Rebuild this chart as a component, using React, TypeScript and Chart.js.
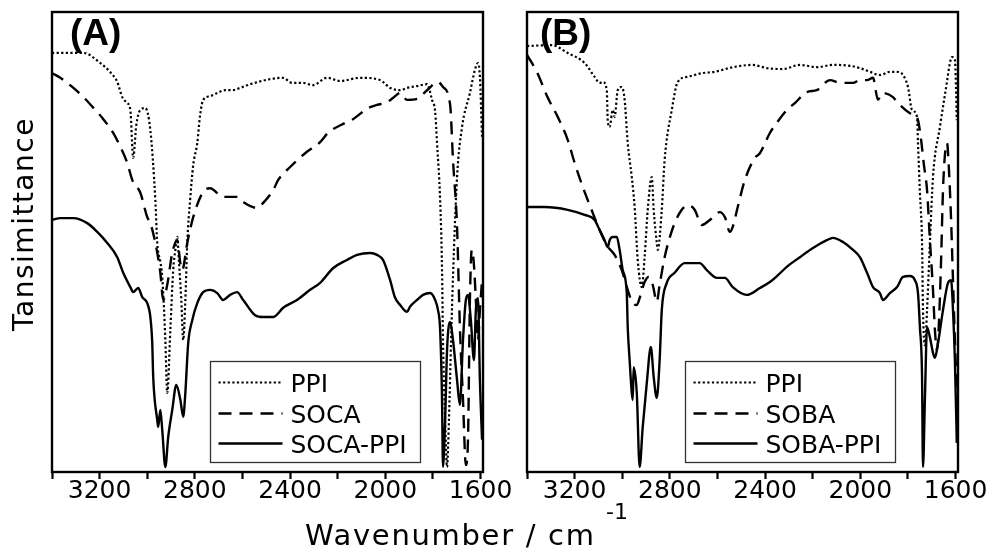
import React, { useEffect, useRef } from "react";
import { Chart, registerables } from "chart.js";

Chart.register(...registerables);

// ---------- axis ----------
const X_MIN = 1590;
const X_MAX = 3400;
const TICK_VALUES = [3400, 3200, 3000, 2800, 2600, 2400, 2200, 2000, 1800, 1600];
const TICK_LABELS = ["", "3200", "", "2800", "", "2400", "", "2000", "", "1600"];

// ---------- panel A ----------
const LABELS_A = ["PPI", "SOCA", "SOCA-PPI"];

const ppiA_wn = [3400, 3365, 3268, 3197, 3155, 3126, 3105, 3084, 3071, 3059, 3046, 3029, 3008, 2987, 2966, 2958, 2945, 2937, 2924, 2916, 2903, 2891, 2882, 2874, 2866, 2857, 2849, 2840, 2832, 2820, 2807, 2790, 2778, 2765, 2736, 2706, 2673, 2643, 2610, 2568, 2484, 2430, 2392, 2346, 2304, 2245, 2190, 2106, 2022, 1980, 1938, 1909, 1867, 1825, 1804, 1791, 1783, 1770, 1762, 1758, 1749, 1741, 1733, 1724, 1716, 1699, 1678, 1645, 1624, 1611, 1603, 1594];
const ppiA_t = [91.1, 91.1, 91.1, 88.9, 86.9, 84.8, 81.5, 80.2, 78.7, 68.3, 75.4, 78.7, 79.1, 74.3, 59.1, 49.8, 45.7, 42.4, 28.7, 17.2, 30.9, 43.9, 48.3, 51.1, 45.0, 37.4, 28.7, 37.4, 49.8, 59.1, 66.7, 71.5, 77.6, 80.9, 81.7, 82.4, 83.0, 83.0, 83.5, 84.3, 85.4, 85.7, 84.6, 84.6, 84.1, 85.7, 85.0, 85.7, 85.2, 83.5, 83.0, 83.5, 83.9, 84.3, 80.9, 78.3, 71.5, 59.1, 43.9, 28.7, 11.3, 1.1, 11.3, 28.7, 42.4, 64.1, 75.0, 82.4, 87.4, 88.9, 85.9, 72.8];

const socaA_wn = [3400, 3365, 3310, 3268, 3218, 3189, 3143, 3113, 3084, 3063, 3029, 3000, 2987, 2966, 2945, 2933, 2916, 2895, 2874, 2861, 2853, 2832, 2807, 2765, 2736, 2681, 2623, 2597, 2538, 2513, 2471, 2450, 2400, 2337, 2274, 2241, 2169, 2136, 2073, 2035, 1993, 1968, 1938, 1909, 1867, 1825, 1779, 1758, 1728, 1716, 1699, 1687, 1674, 1662, 1653, 1645, 1637, 1628, 1620, 1611, 1603, 1594];
const socaA_t = [86.7, 85.7, 83.5, 81.5, 78.7, 77.0, 73.7, 70.7, 67.2, 63.5, 60.7, 55.4, 54.1, 49.8, 43.3, 37.4, 40.7, 47.6, 50.4, 45.4, 43.9, 49.8, 55.4, 60.9, 61.7, 59.8, 59.8, 58.7, 57.4, 58.5, 61.3, 63.5, 66.3, 69.3, 71.7, 73.7, 75.9, 76.7, 79.1, 79.8, 80.4, 81.3, 82.4, 80.9, 81.1, 83.0, 84.8, 83.7, 79.8, 67.8, 53.3, 31.5, 15.7, 1.5, 7.0, 37.4, 48.3, 45.0, 37.4, 28.7, 35.2, 41.7];

const socaPpiA_wn = [3400, 3365, 3310, 3252, 3210, 3168, 3126, 3101, 3071, 3059, 3038, 3021, 3000, 2987, 2979, 2975, 2958, 2954, 2945, 2937, 2924, 2912, 2895, 2878, 2861, 2849, 2840, 2828, 2811, 2790, 2765, 2736, 2706, 2681, 2652, 2623, 2597, 2547, 2513, 2471, 2429, 2371, 2316, 2274, 2220, 2161, 2119, 2064, 2035, 2010, 1980, 1960, 1938, 1909, 1897, 1867, 1842, 1812, 1791, 1779, 1770, 1762, 1758, 1749, 1741, 1728, 1716, 1699, 1687, 1674, 1662, 1653, 1641, 1628, 1620, 1611, 1603, 1594];
const socaPpiA_t = [54.8, 55.2, 55.2, 54.1, 52.2, 49.8, 46.7, 43.3, 40.2, 39.1, 40.0, 38.0, 36.7, 33.7, 28.0, 20.7, 11.3, 9.8, 13.5, 9.1, 1.1, 7.6, 13.5, 18.9, 15.7, 12.0, 17.2, 28.0, 33.0, 36.7, 39.1, 39.6, 38.9, 37.4, 38.5, 39.1, 37.4, 34.1, 33.7, 33.7, 35.7, 37.4, 39.6, 41.1, 44.3, 46.1, 47.2, 47.6, 47.2, 46.1, 41.7, 38.0, 36.3, 34.8, 35.9, 37.4, 38.5, 38.9, 37.4, 35.2, 30.9, 15.7, 1.1, 11.3, 26.5, 32.6, 28.7, 20.0, 14.6, 28.7, 37.4, 38.5, 33.0, 24.3, 35.2, 37.8, 20.0, 7.0];

// ---------- panel B ----------
const LABELS_B = ["PPI", "SOBA", "SOBA-PPI"];

const ppiB_wn = [3400, 3297, 3229, 3158, 3116, 3095, 3082, 3065, 3061, 3053, 3040, 3032, 3019, 3002, 2990, 2977, 2960, 2948, 2935, 2918, 2906, 2893, 2876, 2868, 2855, 2851, 2834, 2822, 2792, 2767, 2725, 2666, 2611, 2536, 2452, 2393, 2326, 2254, 2183, 2115, 2044, 2002, 1960, 1918, 1876, 1846, 1821, 1800, 1783, 1762, 1758, 1750, 1741, 1737, 1729, 1720, 1708, 1695, 1666, 1637, 1624, 1615, 1603, 1595];
const ppiB_t = [92.6, 92.8, 91.1, 88.9, 85.9, 84.6, 84.8, 83.0, 76.5, 75.0, 78.7, 77.2, 83.0, 83.7, 80.9, 71.5, 64.1, 57.6, 46.1, 40.2, 46.7, 57.0, 64.1, 57.0, 49.8, 48.3, 57.0, 67.8, 78.7, 84.8, 85.9, 86.7, 87.0, 88.0, 88.5, 87.8, 87.6, 88.5, 88.0, 88.5, 88.3, 87.8, 87.0, 86.3, 87.0, 87.0, 86.3, 83.7, 78.7, 77.2, 71.5, 60.7, 49.8, 35.2, 27.6, 35.2, 49.8, 64.1, 75.0, 84.6, 88.9, 90.2, 89.6, 76.5];

const sobaB_wn = [3400, 3356, 3314, 3271, 3229, 3200, 3166, 3129, 3095, 3065, 3032, 3002, 2977, 2956, 2939, 2923, 2906, 2889, 2872, 2855, 2843, 2822, 2801, 2780, 2750, 2725, 2696, 2666, 2632, 2590, 2569, 2548, 2536, 2515, 2485, 2443, 2422, 2380, 2351, 2309, 2275, 2225, 2183, 2128, 2086, 2031, 2002, 1972, 1947, 1926, 1909, 1863, 1842, 1792, 1771, 1758, 1745, 1733, 1720, 1708, 1695, 1687, 1678, 1670, 1661, 1653, 1645, 1636, 1628, 1619, 1611, 1603, 1595];
const sobaB_t = [90.7, 86.7, 81.5, 77.2, 72.2, 67.2, 62.0, 57.0, 52.6, 49.3, 47.2, 43.9, 39.6, 36.7, 36.3, 38.5, 41.3, 42.4, 40.7, 37.0, 40.7, 46.7, 50.9, 54.1, 57.0, 58.0, 57.0, 53.7, 54.8, 56.5, 55.4, 52.2, 53.3, 57.6, 63.5, 68.3, 69.3, 73.7, 75.9, 78.7, 80.2, 82.6, 83.0, 85.2, 84.6, 84.6, 85.2, 85.2, 85.7, 80.9, 82.4, 81.5, 80.2, 78.0, 77.6, 76.5, 72.2, 66.7, 61.3, 50.4, 39.6, 30.9, 26.5, 32.6, 46.1, 61.3, 68.9, 71.5, 65.7, 54.8, 41.7, 28.7, 17.8];

const sobaPpiB_wn = [3400, 3326, 3229, 3158, 3116, 3095, 3074, 3061, 3053, 3040, 3023, 3011, 2998, 2981, 2977, 2969, 2960, 2956, 2952, 2939, 2927, 2914, 2897, 2880, 2868, 2855, 2843, 2834, 2813, 2780, 2738, 2696, 2675, 2645, 2603, 2569, 2536, 2477, 2422, 2380, 2346, 2309, 2254, 2199, 2141, 2115, 2073, 2031, 2002, 1972, 1947, 1918, 1905, 1876, 1846, 1821, 1792, 1771, 1758, 1750, 1741, 1737, 1729, 1720, 1708, 1695, 1687, 1674, 1653, 1632, 1619, 1611, 1603, 1595];
const sobaPpiB_t = [57.6, 57.6, 57.0, 55.9, 54.8, 52.6, 50.4, 48.9, 50.4, 51.1, 51.1, 48.3, 43.9, 38.9, 31.5, 24.3, 17.2, 15.7, 22.8, 17.2, 1.1, 9.8, 19.3, 27.2, 20.7, 16.1, 24.3, 35.2, 41.1, 43.3, 45.4, 45.4, 45.4, 43.9, 42.2, 42.2, 40.2, 38.5, 40.0, 41.3, 42.8, 44.6, 46.7, 48.7, 50.4, 50.9, 50.0, 48.3, 46.7, 43.3, 40.2, 38.9, 37.4, 38.9, 40.2, 42.4, 42.6, 41.7, 38.9, 31.5, 20.7, 1.1, 15.7, 31.5, 29.3, 25.9, 24.8, 28.0, 35.2, 41.1, 41.7, 35.2, 24.3, 6.3];

// ---------- styles ----------
const FONT = "'DejaVu Sans', 'Liberation Sans', sans-serif";
const DASHES = [[2.2, 2.4], [13, 8], []];
const WIDTHS = [2.2, 2.4, 2.4];

function toPoints(wn: number[], t: number[]) {
  return wn.map((x, i) => ({ x, y: t[i] }));
}

const framePlugin = {
  id: "frame",
  afterDraw(chart: any) {
    const { ctx, chartArea } = chart;
    ctx.save();
    ctx.strokeStyle = "#000";
    ctx.lineWidth = 2.4;
    ctx.strokeRect(chartArea.left, chartArea.top, chartArea.right - chartArea.left, chartArea.bottom - chartArea.top);
    ctx.restore();
  },
};

const boxLegendPlugin = {
  id: "boxLegend",
  afterDraw(chart: any) {
    const { ctx, chartArea } = chart;
    const bx = Math.round(chartArea.left + 158) + 0.5;
    const by = Math.round(chartArea.top + 349) + 0.5;
    const bw = 210;
    const bh = 101;
    const rows = [21, 52, 82];
    ctx.save();
    ctx.fillStyle = "#fff";
    ctx.fillRect(bx, by, bw, bh);
    ctx.strokeStyle = "#333";
    ctx.lineWidth = 1.3;
    ctx.strokeRect(bx, by, bw, bh);
    chart.data.datasets.forEach((ds: any, i: number) => {
      const y = by + rows[i];
      ctx.beginPath();
      ctx.setLineDash(ds.borderDash || []);
      ctx.lineWidth = ds.borderWidth;
      ctx.strokeStyle = "#000";
      ctx.moveTo(bx + 8, y);
      ctx.lineTo(bx + 72, y);
      ctx.stroke();
      ctx.setLineDash([]);
      ctx.font = `25px ${FONT}`;
      ctx.fillStyle = "#000";
      ctx.textBaseline = "alphabetic";
      ctx.textAlign = "left";
      ctx.fillText(ds.label, bx + 80, y + 9);
    });
    ctx.restore();
  },
};

function makeConfig(series: { wn: number[]; t: number[] }[], labels: string[], padLeft: number, padRight: number) {
  return {
    type: "line" as const,
    data: {
      datasets: series.map((s, i) => ({
        label: labels[i],
        data: toPoints(s.wn, s.t),
        borderColor: "#000",
        borderWidth: WIDTHS[i],
        borderDash: DASHES[i],
        borderCapStyle: "butt",
        borderJoinStyle: "round",
        pointRadius: 0,
        fill: false,
        cubicInterpolationMode: "monotone",
      })),
    },
    options: {
      animation: false,
      responsive: false,
      devicePixelRatio: 1,
      events: [],
      layout: { autoPadding: false, padding: { left: padLeft, right: padRight, top: 12, bottom: 0 } },
      plugins: { legend: { display: false }, tooltip: { enabled: false } },
      scales: {
        x: {
          type: "linear",
          reverse: true,
          min: X_MIN,
          max: X_MAX,
          afterBuildTicks: (s: any) => {
            s.ticks = TICK_VALUES.map((v) => ({ value: v }));
          },
          afterFit: (s: any) => {
            s.height = 78;
          },
          border: { display: false },
          grid: { drawOnChartArea: false, drawTicks: true, tickLength: 7, tickWidth: 2.2, tickColor: "#000" },
          ticks: {
            autoSkip: false,
            maxRotation: 0,
            padding: 0,
            color: "#000",
            font: { family: FONT, size: 25, lineHeight: 1 },
            callback: (_v: any, idx: number) => TICK_LABELS[idx],
          },
        },
        y: { display: false, min: 0, max: 100 },
      },
    },
    plugins: [framePlugin, boxLegendPlugin],
  };
}

function Panel(props: { left: number; width: number; series: { wn: number[]; t: number[] }[]; labels: string[]; padLeft: number; padRight: number }) {
  const ref = useRef<HTMLCanvasElement | null>(null);
  useEffect(() => {
    if (!ref.current) return;
    const chart = new Chart(ref.current, makeConfig(props.series, props.labels, props.padLeft, props.padRight) as any);
    return () => chart.destroy();
  }, []);
  return (
    <canvas
      ref={ref}
      width={props.width}
      height={550}
      style={{ position: "absolute", left: props.left, top: 0, width: props.width, height: 550 }}
    />
  );
}

export default function App() {
  const seriesA = [
    { wn: ppiA_wn, t: ppiA_t },
    { wn: socaA_wn, t: socaA_t },
    { wn: socaPpiA_wn, t: socaPpiA_t },
  ];
  const seriesB = [
    { wn: ppiB_wn, t: ppiB_t },
    { wn: sobaB_wn, t: sobaB_t },
    { wn: sobaPpiB_wn, t: sobaPpiB_t },
  ];
  return (
    <div style={{ position: "absolute", left: 0, top: 0, width: 992, height: 550, background: "#fff", overflow: "hidden" }}>
      <Panel left={0} width={520} series={seriesA} labels={LABELS_A} padLeft={52} padRight={37} />
      <Panel left={520} width={472} series={seriesB} labels={LABELS_B} padLeft={7} padRight={34} />
      <div
        style={{
          position: "absolute",
          left: -126,
          top: 210,
          width: 300,
          height: 28,
          lineHeight: "28px",
          fontFamily: FONT,
          fontSize: 28,
          letterSpacing: "1.5px",
          textAlign: "center",
          transform: "rotate(-90deg)",
          whiteSpace: "nowrap",
          color: "#000",
        }}
      >
        Tansimittance
      </div>
      <div
        style={{
          position: "absolute",
          left: 305,
          top: 521,
          height: 29,
          lineHeight: "29px",
          fontFamily: FONT,
          fontSize: 29,
          letterSpacing: "1.7px",
          whiteSpace: "nowrap",
          color: "#000",
        }}
      >
        Wavenumber / cm
      </div>
      <div
        style={{
          position: "absolute",
          left: 606,
          top: 500,
          height: 24,
          lineHeight: "24px",
          fontFamily: FONT,
          fontSize: 22,
          whiteSpace: "nowrap",
          color: "#000",
        }}
      >
        -1
      </div>
      <div
        style={{
          position: "absolute",
          left: 70,
          top: 14,
          lineHeight: "37px",
          fontFamily: "'Liberation Sans', Arial, sans-serif",
          fontWeight: "bold",
          fontSize: 37,
          color: "#000",
        }}
      >
        (A)
      </div>
      <div
        style={{
          position: "absolute",
          left: 540,
          top: 14,
          lineHeight: "37px",
          fontFamily: "'Liberation Sans', Arial, sans-serif",
          fontWeight: "bold",
          fontSize: 37,
          color: "#000",
        }}
      >
        (B)
      </div>
    </div>
  );
}
